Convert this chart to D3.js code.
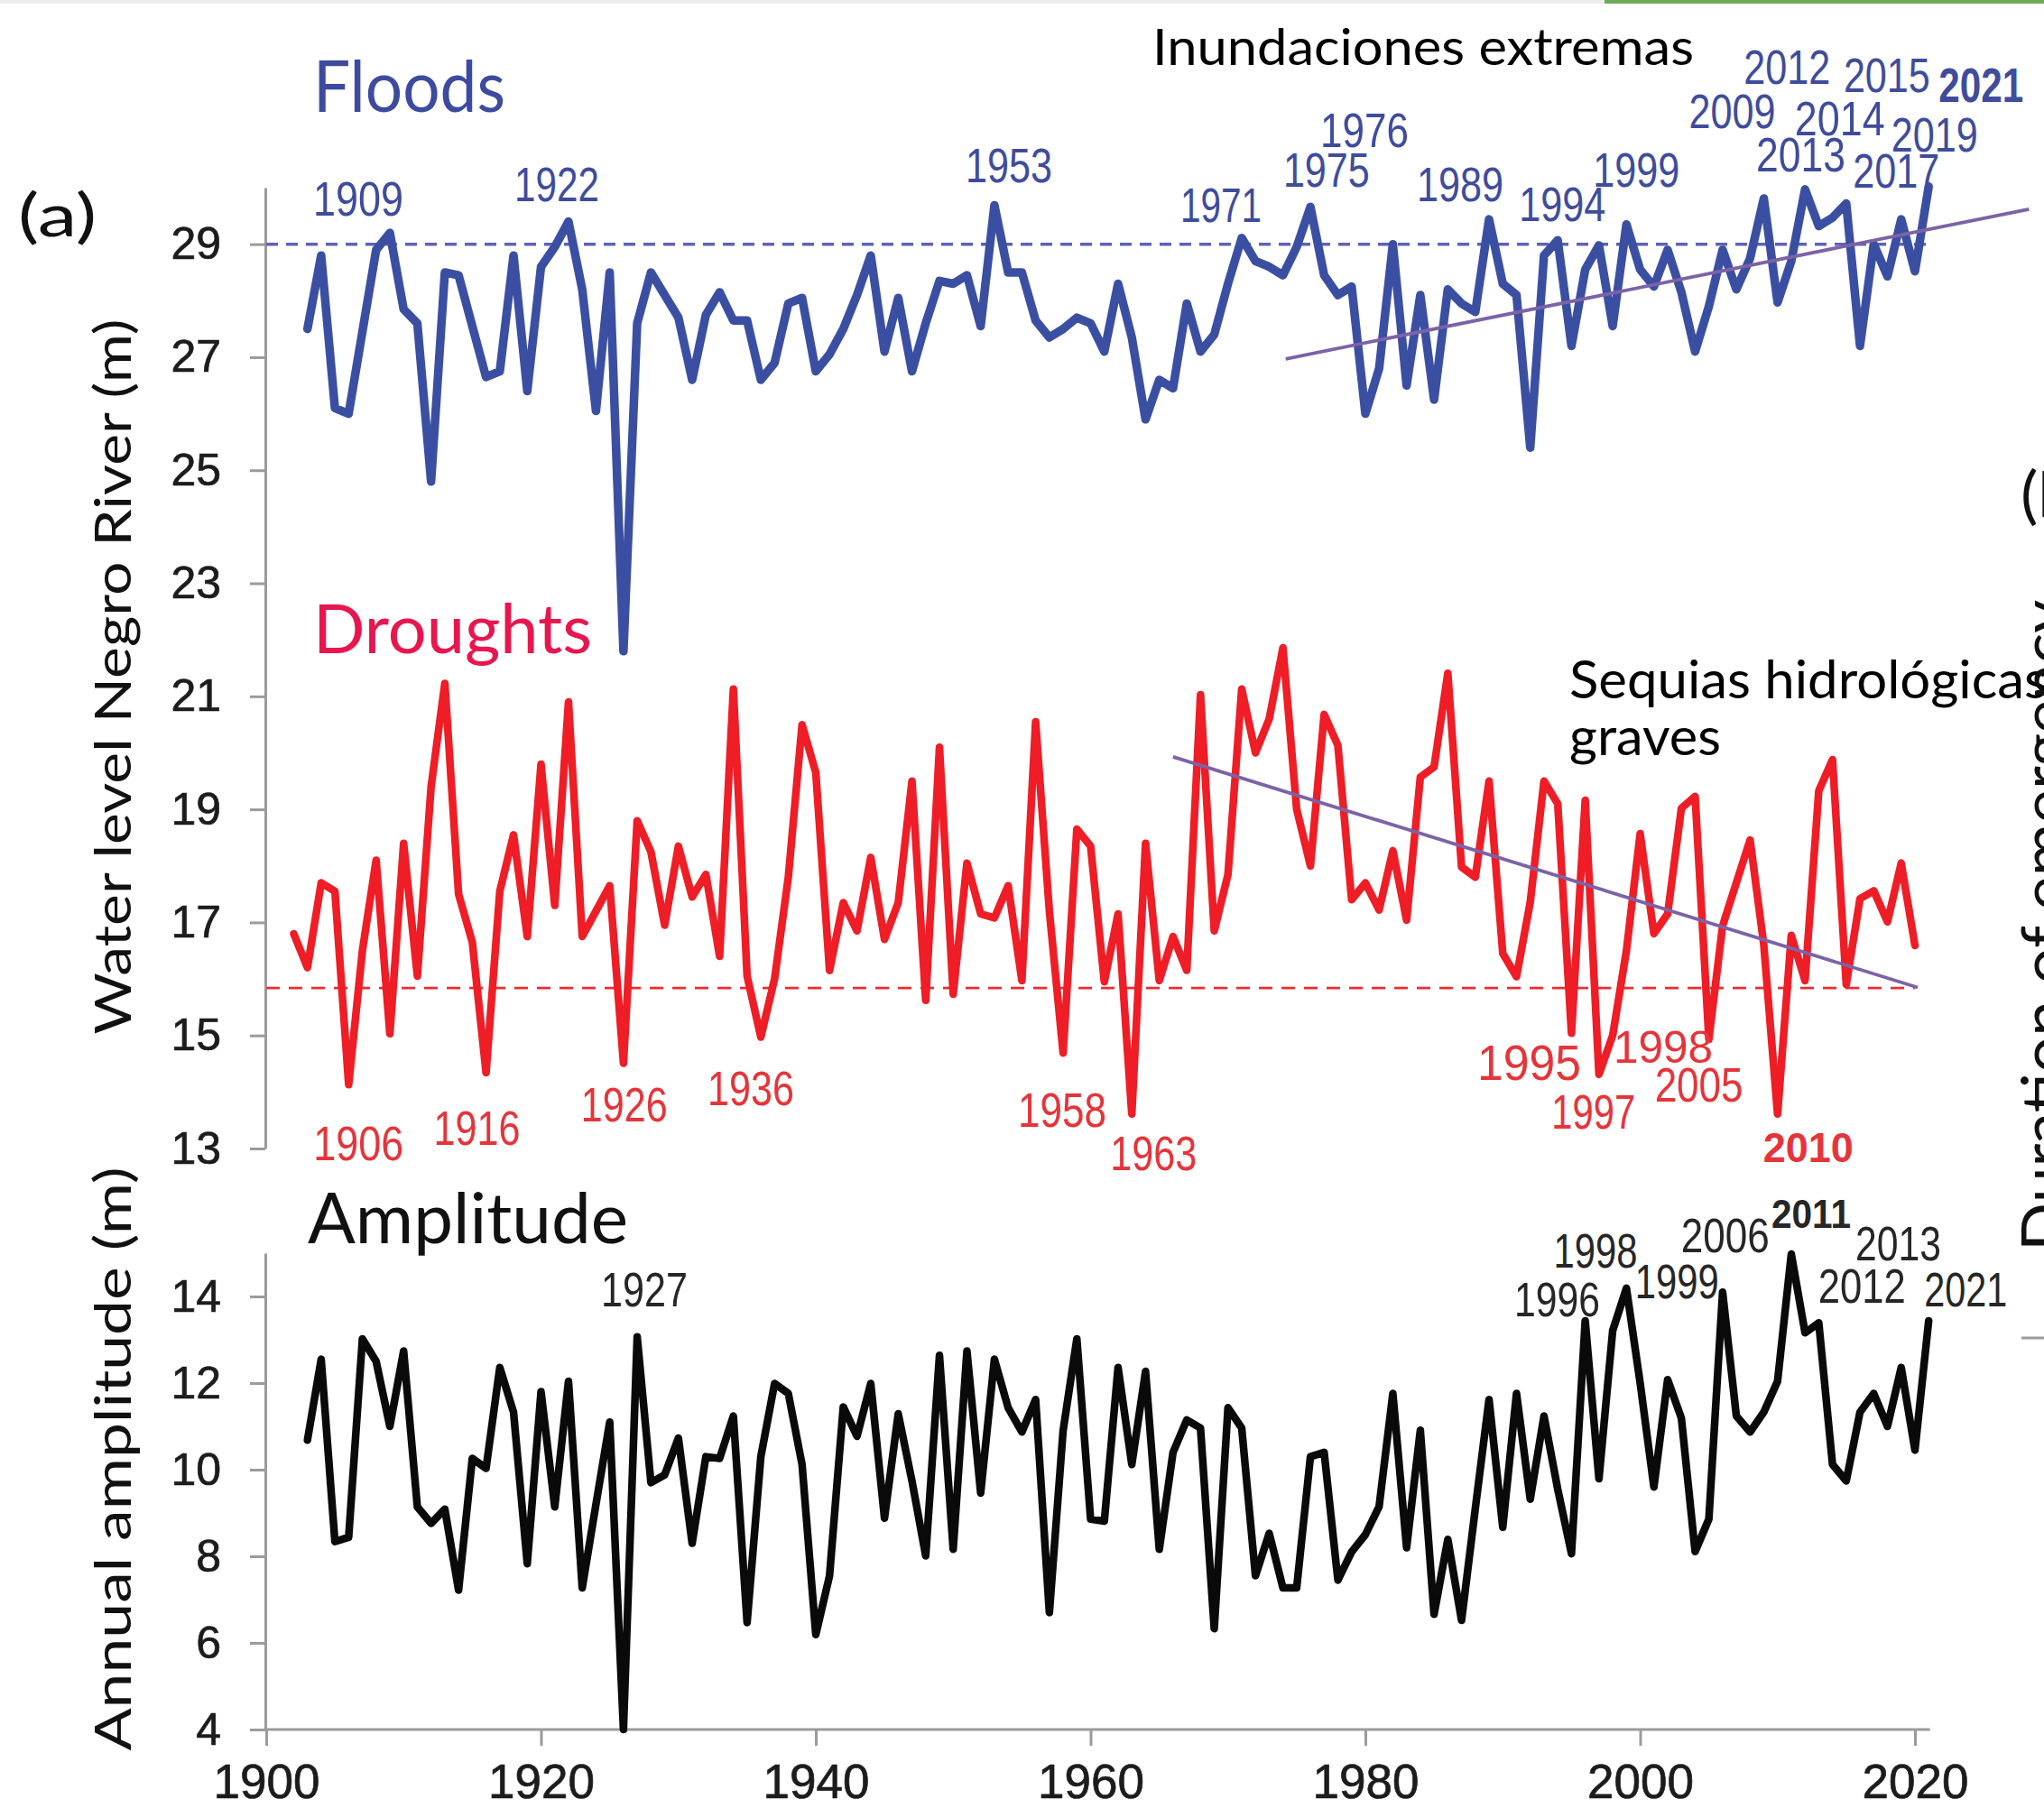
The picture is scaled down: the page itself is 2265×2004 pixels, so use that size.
<!DOCTYPE html>
<html>
<head>
<meta charset="utf-8">
<script src="https://cdn.jsdelivr.net/npm/d3@7"></script>
<style>
  html, body { margin: 0; padding: 0; background: #fff; }
  svg { display: block; }
  .axis path, .axis line { stroke: #9b9b9b; stroke-width: 3; }
  .axis text { font-family: "Liberation Sans", Arial, sans-serif; fill: #1c1c1c; stroke: #1c1c1c; stroke-width: 0.7; }
</style>
</head>
<body>
<svg id="chart" width="2265" height="2004"></svg>
<script>
// ---- Data: annual levels of the Negro River at Manaus ----
const years = [
  1902, 1903, 1904, 1905, 1906, 1907, 1908, 1909, 1910, 1911,
  1912, 1913, 1914, 1915, 1916, 1917, 1918, 1919, 1920, 1921,
  1922, 1923, 1924, 1925, 1926, 1927, 1928, 1929, 1930, 1931,
  1932, 1933, 1934, 1935, 1936, 1937, 1938, 1939, 1940, 1941,
  1942, 1943, 1944, 1945, 1946, 1947, 1948, 1949, 1950, 1951,
  1952, 1953, 1954, 1955, 1956, 1957, 1958, 1959, 1960, 1961,
  1962, 1963, 1964, 1965, 1966, 1967, 1968, 1969, 1970, 1971,
  1972, 1973, 1974, 1975, 1976, 1977, 1978, 1979, 1980, 1981,
  1982, 1983, 1984, 1985, 1986, 1987, 1988, 1989, 1990, 1991,
  1992, 1993, 1994, 1995, 1996, 1997, 1998, 1999, 2000, 2001,
  2002, 2003, 2004, 2005, 2006, 2007, 2008, 2009, 2010, 2011,
  2012, 2013, 2014, 2015, 2016, 2017, 2018, 2019, 2020, 2021
];

// annual maximum water level (m)
const floods = [
  null, 27.5, 28.8, 26.1, 26.0, 27.45, 28.9, 29.2, 27.85, 27.6,
  24.8, 28.5, 28.45, 27.55, 26.65, 26.75, 28.8, 26.4, 28.6, 28.95,
  29.4, 28.2, 26.05, 28.5, 21.8, 27.6, 28.5, 28.1, 27.7, 26.6,
  27.75, 28.15, 27.65, 27.65, 26.6, 26.9, 27.95, 28.05, 26.75, 27.05,
  27.5, 28.1, 28.8, 27.1, 28.05, 26.75, 27.6, 28.35, 28.3, 28.45,
  27.55, 29.69, 28.5, 28.5, 27.65, 27.35, 27.5, 27.7, 27.6, 27.1,
  28.3, 27.35, 25.9, 26.6, 26.45, 27.95, 27.1, 27.4, 28.3, 29.11,
  28.7, 28.6, 28.45, 28.95, 29.66, 28.45, 28.1, 28.25, 26.0, 26.8,
  29.0, 26.5, 28.1, 26.25, 28.2, 27.95, 27.8, 29.44, 28.3, 28.1,
  25.4, 28.8, 29.07, 27.2, 28.55, 28.98, 27.55, 29.35, 28.55, 28.25,
  28.9, 28.15, 27.1, 27.9, 28.9, 28.2, 28.75, 29.81, 27.97, 28.7,
  29.97, 29.32, 29.47, 29.72, 27.2, 29.0, 28.43, 29.44, 28.52, 30.02
];

// annual minimum water level (m)
const droughts = [
  16.8, 16.2, 17.7, 17.55, 14.13, 16.5, 18.1, 15.03, 18.4, 16.05,
  19.4, 21.23, 17.5, 16.65, 14.34, 17.55, 18.55, 16.75, 19.8, 17.3,
  20.9, 16.75, 17.2, 17.65, 14.51, 18.8, 18.25, 16.95, 18.35, 17.45,
  17.85, 16.4, 21.13, 16.05, 14.97, 16.0, 17.8, 20.5, 19.65, 16.15,
  17.35, 16.85, 18.15, 16.7, 17.35, 19.5, 15.62, 20.1, 15.73, 18.05,
  17.15, 17.08, 17.65, 15.97, 20.55, 17.2, 14.69, 18.65, 18.35, 15.95,
  17.15, 13.61, 18.4, 15.97, 16.75, 16.15, 21.03, 16.85, 17.85, 21.13,
  20.0, 20.6, 21.86, 19.0, 18.0, 20.68, 20.13, 17.4, 17.7, 17.22,
  18.27, 17.04, 19.57, 19.75, 21.41, 17.98, 17.8, 19.5, 16.45, 16.04,
  17.36, 19.5, 19.1, 15.04, 19.16, 14.31, 15.0, 16.5, 18.57, 16.8,
  17.15, 19.02, 19.23, 14.93, 16.94, 17.7, 18.46, 16.6, 13.61, 16.77,
  15.97, 19.33, 19.88, 15.9, 17.42, 17.56, 17.01, 18.05, 16.59, null
];

// annual amplitude (m)
const amplitude = [
  null, 10.68, 12.55, 8.34, 8.44, 13.02, 12.5, 11.0, 12.74, 9.14,
  8.76, 9.09, 7.22, 10.26, 10.03, 12.36, 11.33, 7.83, 11.8, 9.14,
  12.04, 7.27, 9.2, 11.1, 4.0, 13.07, 9.7, 9.88, 10.73, 8.3,
  10.3, 10.26, 11.24, 6.47, 10.3, 11.99, 11.76, 10.12, 6.19, 7.55,
  11.45, 10.77, 11.99, 8.88, 11.29, 9.74, 8.01, 12.64, 8.16, 12.74,
  9.46, 12.55, 11.43, 10.87, 11.62, 6.7, 10.9, 13.02, 8.86, 8.81,
  12.36, 10.12, 12.27, 8.16, 10.4, 11.15, 10.96, 6.33, 11.43, 10.96,
  7.55, 8.53, 7.27, 7.27, 10.3, 10.4, 7.45, 8.1, 8.5, 9.15,
  11.76, 8.2, 10.91, 6.66, 8.39, 6.52, 9.1, 11.62, 8.67, 11.76,
  9.32, 11.24, 9.55, 8.06, 13.44, 9.79, 13.21, 14.19, 12.0, 9.6,
  12.08, 11.19, 8.11, 8.86, 14.1, 11.24, 10.87, 11.33, 12.04, 14.98,
  13.16, 13.39, 10.12, 9.74, 11.33, 11.76, 11.0, 12.36, 10.45, 13.44
];

// reference levels and linear trends
const floodThreshold = 29.0;
const droughtThreshold = 15.84;
const floodTrend = [[1974.2, 26.97], [2028.3, 29.62]];
const droughtTrend = [[1966.0, 19.93], [2020.2, 15.85]];

// years singled out as extremes
const floodYearsLabelled = [1909, 1922, 1953, 1971, 1975, 1976, 1989, 1994, 1999, 2009, 2012, 2013, 2014, 2015, 2017, 2019, 2021];
const droughtYearsLabelled = [1906, 1916, 1926, 1936, 1958, 1963, 1995, 1997, 1998, 2005, 2010];
const amplitudeYearsLabelled = [1927, 1996, 1998, 1999, 2006, 2011, 2012, 2013, 2021];

// axis ticks
const levelTicks = [13, 15, 17, 19, 21, 23, 25, 27, 29];
const amplitudeTicks = [4, 6, 8, 10, 12, 14];
const yearTicks = [1900, 1920, 1940, 1960, 1980, 2000, 2020];

// ---- Label placement (pixel offset from the point, text width, font size, bold) ----
const floodLabelPlace = {
  1909: [-35, -19, 100, 53], 1922: [-13, -23, 94, 53], 1953: [16, -25, 96, 53],
  1971: [-23, -18, 90, 53], 1975: [33, -67, 96, 53], 1976: [60, -66, 98, 53],
  1989: [-32, -20, 96, 53], 1994: [5, -21, 96, 53], 1999: [11, -42, 96, 53],
  2009: [-35, -78, 96, 53], 2012: [-20, -117, 96, 53], 2013: [-20, -61, 99, 53],
  2014: [8, -91, 100, 53], 2015: [45, -124, 96, 53], 2017: [25, -63, 96, 53],
  2019: [37, -75, 96, 53], 2021: [58, -94, 94, 53, true]
};
const droughtLabelPlace = {
  1906: [11, 84, 100, 54], 1916: [-10, 80, 96, 54], 1926: [1, 65, 96, 54],
  1936: [-11, 75, 96, 54], 1958: [-1, 82, 98, 54], 1963: [24, 62, 96, 54],
  1995: [-47, 52, 115, 56], 1997: [-6, 60, 93, 54], 1998: [56, 30, 110, 50],
  2005: [-11, 69, 98, 54], 2010: [34, 53, 100, 46, true]
};
const amplitudeLabelPlace = {
  1927: [8, -34, 96, 54], 1996: [-31, -5, 95, 54], 1998: [-19, -70, 93, 54],
  1999: [56, 11, 93, 54], 2006: [3, -44, 98, 54], 2011: [22, -29, 88, 44, true],
  2012: [63, -33, 97, 54], 2013: [88, -69, 95, 54], 2021: [41, -16, 92, 54]
};

// ---- Drawing ----
const W = 2265, H = 2004;
const svg = d3.select('#chart');
svg.append('rect').attr('width', W).attr('height', H).attr('fill', '#ffffff');

// thin window strip along the top edge
svg.append('rect').attr('x', 0).attr('y', 0).attr('width', 1778).attr('height', 4).attr('fill', '#ececec');
svg.append('rect').attr('x', 1778).attr('y', 0).attr('width', W - 1778).attr('height', 4).attr('fill', '#70a957');

const x = d3.scaleLinear().domain([1900, 2020]).range([295, 2122]);
const yLevel = d3.scaleLinear().domain([13, 30]).range([1273, 208]);
const yAmp = d3.scaleLinear().domain([4, 15]).range([1917, 1389]);

const NUM_FONT = '"Liberation Sans", Arial, sans-serif';
const TXT_FONT = 'Lato, "Open Sans", sans-serif';

function fitWidth(sel, w) {
  sel.attr('textLength', w).attr('lengthAdjust', 'spacingAndGlyphs');
}

// axes
const axisX0 = 294;
const gUp = svg.append('g').attr('class', 'axis').attr('transform', `translate(${axisX0},0)`)
  .call(d3.axisLeft(yLevel).tickValues(levelTicks).tickSize(17).tickSizeOuter(0).tickPadding(32));
gUp.selectAll('text').style('font-size', '50px');

const gLow = svg.append('g').attr('class', 'axis').attr('transform', `translate(${axisX0},0)`)
  .call(d3.axisLeft(yAmp).tickValues(amplitudeTicks).tickSize(17).tickSizeOuter(0).tickPadding(32));
gLow.selectAll('text').style('font-size', '50px');

const gX = svg.append('g').attr('class', 'axis').attr('transform', `translate(0,${yAmp(4)})`)
  .call(d3.axisBottom(x).tickValues(yearTicks).tickFormat(d3.format('d')).tickSize(18).tickSizeOuter(0).tickPadding(20));
gX.select('.domain').remove();
gX.selectAll('text').style('font-size', '53px');
svg.append('line')
  .attr('x1', axisX0 - 1).attr('x2', x(2021.1))
  .attr('y1', yAmp(4)).attr('y2', yAmp(4))
  .attr('stroke', '#9b9b9b').attr('stroke-width', 3);

// threshold lines
svg.append('line')
  .attr('x1', x(1900)).attr('x2', x(2021)).attr('y1', yLevel(floodThreshold)).attr('y2', yLevel(floodThreshold))
  .attr('stroke', '#5d62b5').attr('stroke-width', 3.5).attr('stroke-dasharray', '13 9');
svg.append('line')
  .attr('x1', x(1900)).attr('x2', x(2020)).attr('y1', yLevel(droughtThreshold)).attr('y2', yLevel(droughtThreshold))
  .attr('stroke', '#ea2d33').attr('stroke-width', 2.8).attr('stroke-dasharray', '15 10');

// series
const rows = years.map((yr, i) => ({ year: yr, flood: floods[i], drought: droughts[i], amp: amplitude[i] }));
const byYear = new Map(rows.map(r => [r.year, r]));

function drawSeries(key, yScale, color, width) {
  const line = d3.line()
    .defined(d => d[key] != null)
    .x(d => x(d.year))
    .y(d => yScale(d[key]));
  svg.append('path')
    .datum(rows)
    .attr('d', line)
    .attr('fill', 'none')
    .attr('stroke', color)
    .attr('stroke-width', width)
    .attr('stroke-linejoin', 'round')
    .attr('stroke-linecap', 'round');
}
drawSeries('flood', yLevel, '#3b4fa2', 9.5);
drawSeries('drought', yLevel, '#ee1d26', 8.5);
drawSeries('amp', yAmp, '#0a0a0a', 8.5);

// trend lines
const trendLine = d3.line().x(d => x(d[0])).y(d => yLevel(d[1]));
[floodTrend, droughtTrend].forEach(t => {
  svg.append('path').attr('d', trendLine(t))
    .attr('fill', 'none').attr('stroke', '#7c62a7').attr('stroke-width', 3.8);
});

// year labels at extremes
function drawLabels(list, place, key, yScale, color) {
  list.forEach(yr => {
    const r = byYear.get(yr);
    const [dx, dy, w, fs, bold] = place[yr];
    const t = svg.append('text')
      .attr('x', x(yr) + dx)
      .attr('y', yScale(r[key]) + dy)
      .attr('text-anchor', 'middle')
      .attr('font-family', NUM_FONT)
      .attr('font-size', fs)
      .attr('font-weight', bold ? 'bold' : 'normal')
      .attr('fill', color)
      .text(yr);
    fitWidth(t, w);
  });
}
drawLabels(floodYearsLabelled, floodLabelPlace, 'flood', yLevel, '#3f4c9c');
drawLabels(droughtYearsLabelled, droughtLabelPlace, 'drought', yLevel, '#e5343a');
drawLabels(amplitudeYearsLabelled, amplitudeLabelPlace, 'amp', yAmp, '#262626');

// panel titles
function title(txt, px, py, fs, w, color) {
  const t = svg.append('text').attr('x', px).attr('y', py)
    .attr('font-family', TXT_FONT).attr('font-size', fs).attr('fill', color).text(txt);
  fitWidth(t, w);
  return t;
}
title('(a)', 20, 262, 66, 87, '#111');
title('Floods', 347, 124, 80, 213, '#3c4b9f');
title('Droughts', 347, 724, 75, 309, '#e8164e');
title('Amplitude', 341, 1378, 77, 355, '#111');
title('Inundaciones extremas', 1277, 72, 57, 600, '#000');
title('Sequias hidrológicas', 1739, 774, 58, 530, '#000');
title('graves', 1739, 837, 58, 168, '#000');
title('(b', 2239, 573, 70, 60, '#111');

// axis titles
svg.append('text')
  .attr('transform', 'translate(145,750) rotate(-90)')
  .attr('text-anchor', 'middle')
  .attr('font-family', TXT_FONT).attr('font-size', 56).attr('fill', '#111')
  .text('Water level Negro River (m)')
  .call(fitWidth, 793);
svg.append('text')
  .attr('transform', 'translate(145,1617) rotate(-90)')
  .attr('text-anchor', 'middle')
  .attr('font-family', TXT_FONT).attr('font-size', 56).attr('fill', '#111')
  .text('Annual amplitude (m)')
  .call(fitWidth, 647);

// neighbouring panel edge
svg.append('text')
  .attr('transform', 'translate(2290,1387) rotate(-90)')
  .attr('font-family', TXT_FONT).attr('font-size', 70).attr('fill', '#111')
  .text('Duration of emergency')
  .call(fitWidth, 722);
svg.append('line')
  .attr('x1', 2240).attr('x2', W).attr('y1', 1483).attr('y2', 1483)
  .attr('stroke', '#9b9b9b').attr('stroke-width', 3);
</script>
</body>
</html>
